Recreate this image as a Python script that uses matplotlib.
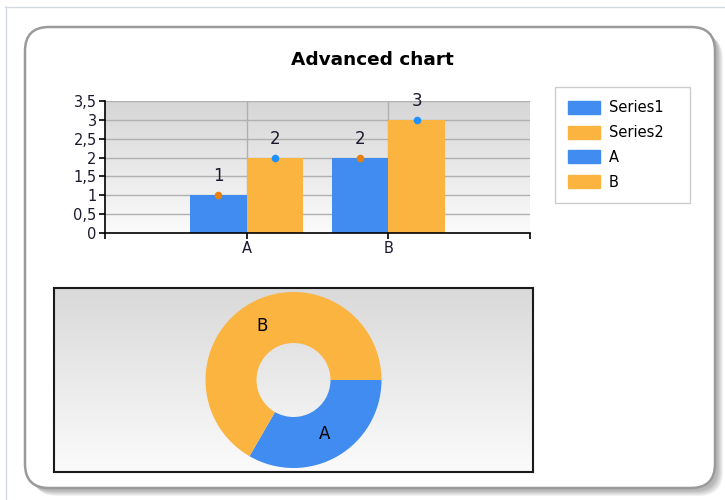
import numpy as np
import matplotlib
matplotlib.use("Agg")
import matplotlib.pyplot as plt
from matplotlib.patches import FancyBboxPatch, Patch
from matplotlib.colors import LinearSegmentedColormap

# chart data
categories = ["A", "B"]
series1 = [1, 2]
series2 = [2, 3]
pie_labels = ["A", "B"]
pie_values = [1, 2]
legend_labels = ["Series1", "Series2", "A", "B"]
y_ticks = [0, 0.5, 1, 1.5, 2, 2.5, 3, 3.5]
y_tick_labels = ["0", "0,5", "1", "1,5", "2", "2,5", "3", "3,5"]

blue = "#418cf0"
orange = "#fcb441"
text_color = "#1a1a2e"

W, H = 725, 500
fig = plt.figure(figsize=(W / 100, H / 100), dpi=100)
fig.patch.set_facecolor("white")


def box(x0, y0, x1, y1):
    # pixel box measured from the top-left -> figure fraction rect
    return [x0 / W, 1 - y1 / H, (x1 - x0) / W, (y1 - y0) / H]


# background layer in pixel units: page lines, shadow and rounded frame
bg = fig.add_axes([0, 0, 1, 1])
bg.set_xlim(0, W)
bg.set_ylim(H, 0)
bg.axis("off")
bg.plot([5, W], [7, 7], color="#d5d9e2", lw=1)
bg.plot([6, 6], [7, H], color="#d5d9e2", lw=1)
for off in [8, 7, 6, 5, 4, 3]:
    bg.add_patch(FancyBboxPatch((25 + off, 27 + off), 690, 461,
                                boxstyle="round,pad=0,rounding_size=24",
                                fc="black", ec="none", alpha=0.05))
bg.add_patch(FancyBboxPatch((25, 27), 690, 461,
                            boxstyle="round,pad=0,rounding_size=24",
                            fc="white", ec="#9a9a9a", lw=1.8))
bg.text(372, 60, "Advanced chart", ha="center", va="center",
        fontsize=13.3, fontweight="bold", color="black")

grad = np.linspace(0, 1, 256).reshape(-1, 1)
bar_cmap = LinearSegmentedColormap.from_list("barbg", ["#d6d6d6", "#fbfbfb"])
pie_cmap = LinearSegmentedColormap.from_list("piebg", ["#d9d9d9", "#fbfbfb"])

# column chart
ax = fig.add_axes(box(105, 101, 530, 233))
ax.imshow(grad, extent=[0, 3, 0, 3.5], aspect="auto", cmap=bar_cmap, zorder=0)
x = np.arange(len(categories)) + 1
ax.bar(x - 0.2, series1, 0.4, color=blue, zorder=3)
ax.bar(x + 0.2, series2, 0.4, color=orange, zorder=3)
ax.scatter(x - 0.2, series1, s=30, color="#e8820c", zorder=4, linewidths=0)
ax.scatter(x + 0.2, series2, s=30, color="#1e90ff", zorder=4, linewidths=0)
for xs, vals in [(x - 0.2, series1), (x + 0.2, series2)]:
    for xi, v in zip(xs, vals):
        ax.annotate(str(v), (xi, v), xytext=(0, 10), textcoords="offset points",
                    ha="center", va="baseline", fontsize=12, color=text_color,
                    zorder=5)
for xi in x:
    ax.axvline(xi, color="#b0b0b0", lw=1, zorder=1)
ax.set_xlim(0, 3)
ax.set_ylim(0, 3.5)
ax.set_xticks([0] + list(x) + [3], [""] + categories + [""])
ax.set_yticks(y_ticks, y_tick_labels)
ax.yaxis.grid(True, color="#b0b0b0", lw=1, zorder=1)
ax.set_axisbelow(True)
for side in ["top", "right"]:
    ax.spines[side].set_visible(False)
for side in ["left", "bottom"]:
    ax.spines[side].set_color("black")
    ax.spines[side].set_linewidth(1.2)
    ax.spines[side].set_zorder(6)
ax.tick_params(direction="out", length=4, width=1.2, colors="black",
               labelcolor=text_color, labelsize=10.5, pad=2)

# legend
handles = [Patch(color=c) for c in [blue, orange, blue, orange]]
fig.legend(handles, legend_labels, loc="upper left",
           bbox_to_anchor=(555 / W, 1 - 87 / H, 135 / W, 0), mode="expand",
           borderaxespad=0, fontsize=10.5, frameon=True, fancybox=False,
           edgecolor="#c0c0c0", handlelength=2.2, handleheight=1.0,
           handletextpad=0.6, labelspacing=0.68, borderpad=0.9)

# doughnut chart
pw, ph = 479, 184
pax = fig.add_axes(box(54, 288, 533, 472))
pax.imshow(grad, extent=[0, pw, 0, ph], aspect="auto", cmap=pie_cmap, zorder=0)
wedges, texts = pax.pie(pie_values, labels=pie_labels, colors=[blue, orange],
                        startangle=0, counterclock=False, radius=88,
                        center=(pw / 2, ph / 2), labeldistance=62.5 / 88,
                        wedgeprops=dict(width=51, linewidth=0), frame=True)
for t in texts:
    t.set_ha("center")
    t.set_va("center")
    t.set_fontsize(12)
    t.set_color("black")
pax.set_xlim(0, pw)
pax.set_ylim(0, ph)
pax.set_aspect("auto")
pax.set_xticks([])
pax.set_yticks([])
for s in pax.spines.values():
    s.set_color("#1a1a1a")
    s.set_linewidth(1.5)

fig.savefig("out.png", dpi=100)
